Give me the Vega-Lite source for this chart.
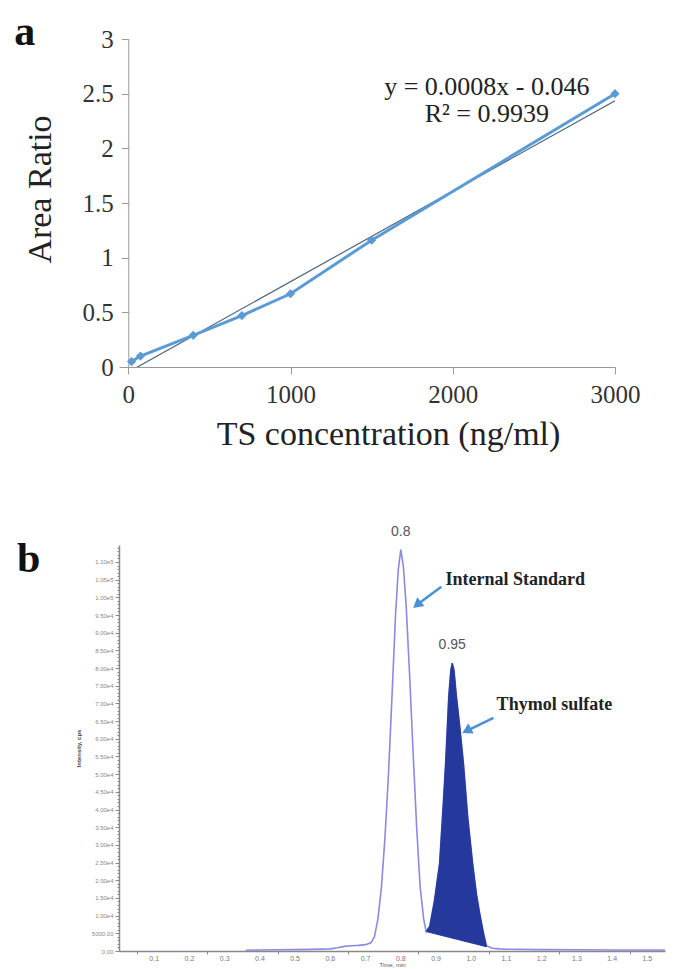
{
  "$schema": "https://vega.github.io/schema/vega-lite/v6.json",
  "background": "white",
  "padding": {"left": 14, "top": 11, "right": 5, "bottom": 0},
  "spacing": 73,
  "config": {"view": {"stroke": null}, "axis": {"grid": false}, "axisX": {"labelFlush": false}},
  "datasets": {
    "cal": [
      {"conc": 20, "ratio": 0.05},
      {"conc": 75, "ratio": 0.1},
      {"conc": 400, "ratio": 0.29},
      {"conc": 700, "ratio": 0.47},
      {"conc": 1000, "ratio": 0.67},
      {"conc": 1500, "ratio": 1.16},
      {"conc": 3000, "ratio": 2.5}
    ],
    "fit": [
      {"conc": 20, "ratio": -0.03},
      {"conc": 3000, "ratio": 2.435}
    ],
    "eq": [
      {"conc": 2210, "ratio": 2.557, "text": "y = 0.0008x - 0.046"},
      {"conc": 2210, "ratio": 2.31, "text": "R² = 0.9939"}
    ],
    "trace": [
      {"t": 0.36, "i": 200}, {"t": 0.40, "i": 300}, {"t": 0.45, "i": 350}, {"t": 0.50, "i": 400},
      {"t": 0.55, "i": 450}, {"t": 0.60, "i": 600}, {"t": 0.62, "i": 900}, {"t": 0.64, "i": 1300},
      {"t": 0.66, "i": 1500}, {"t": 0.68, "i": 1600}, {"t": 0.70, "i": 1800}, {"t": 0.715, "i": 2300},
      {"t": 0.725, "i": 4000}, {"t": 0.735, "i": 9000}, {"t": 0.745, "i": 18000}, {"t": 0.755, "i": 32000},
      {"t": 0.765, "i": 50000}, {"t": 0.775, "i": 72000}, {"t": 0.785, "i": 95000}, {"t": 0.793, "i": 108000},
      {"t": 0.80, "i": 113500}, {"t": 0.807, "i": 109000}, {"t": 0.815, "i": 98000}, {"t": 0.825, "i": 78000},
      {"t": 0.835, "i": 56000}, {"t": 0.845, "i": 35000}, {"t": 0.855, "i": 18000}, {"t": 0.865, "i": 9000},
      {"t": 0.872, "i": 5500}, {"t": 0.882, "i": 7000}, {"t": 0.895, "i": 14000}, {"t": 0.91, "i": 24800},
      {"t": 0.92, "i": 41000}, {"t": 0.927, "i": 53000}, {"t": 0.936, "i": 72000}, {"t": 0.942, "i": 79500},
      {"t": 0.946, "i": 81400}, {"t": 0.951, "i": 79500}, {"t": 0.958, "i": 72000}, {"t": 0.968, "i": 63000},
      {"t": 0.978, "i": 53000}, {"t": 0.99, "i": 38000}, {"t": 1.004, "i": 24800}, {"t": 1.015, "i": 16000},
      {"t": 1.024, "i": 10700}, {"t": 1.035, "i": 5000}, {"t": 1.043, "i": 1500}, {"t": 1.06, "i": 800},
      {"t": 1.08, "i": 600}, {"t": 1.10, "i": 500}, {"t": 1.20, "i": 400}, {"t": 1.30, "i": 350},
      {"t": 1.40, "i": 300}, {"t": 1.50, "i": 300}, {"t": 1.55, "i": 300}
    ],
    "ts": [
      {"t": 0.872, "i": 5500, "b": 5500}, {"t": 0.882, "i": 7000, "b": 5250}, {"t": 0.895, "i": 14000, "b": 4920},
      {"t": 0.91, "i": 24800, "b": 4540}, {"t": 0.92, "i": 41000, "b": 4290}, {"t": 0.927, "i": 53000, "b": 4120},
      {"t": 0.936, "i": 72000, "b": 3890}, {"t": 0.942, "i": 79500, "b": 3740}, {"t": 0.946, "i": 81400, "b": 3640},
      {"t": 0.951, "i": 79500, "b": 3510}, {"t": 0.958, "i": 72000, "b": 3340}, {"t": 0.968, "i": 63000, "b": 3090},
      {"t": 0.978, "i": 53000, "b": 2830}, {"t": 0.99, "i": 38000, "b": 2530}, {"t": 1.004, "i": 24800, "b": 2180},
      {"t": 1.015, "i": 16000, "b": 1900}, {"t": 1.024, "i": 10700, "b": 1680}, {"t": 1.035, "i": 5000, "b": 1400},
      {"t": 1.043, "i": 1500, "b": 1200}
    ],
    "xticks": [
      {"t": 0.1, "label": "0.1"}, {"t": 0.2, "label": "0.2"}, {"t": 0.3, "label": "0.3"}, {"t": 0.4, "label": "0.4"},
      {"t": 0.5, "label": "0.5"}, {"t": 0.6, "label": "0.6"}, {"t": 0.7, "label": "0.7"}, {"t": 0.8, "label": "0.8"},
      {"t": 0.9, "label": "0.9"}, {"t": 1.0, "label": "1.0"}, {"t": 1.1, "label": "1.1"}, {"t": 1.2, "label": "1.2"},
      {"t": 1.3, "label": "1.3"}, {"t": 1.4, "label": "1.4"}, {"t": 1.5, "label": "1.5"}
    ],
    "peaks": [
      {"t": 0.8, "i": 113500, "label": "0.8"},
      {"t": 0.946, "i": 81400, "label": "0.95"}
    ],
    "notes": [
      {"name": "is", "t": 0.927, "i": 104900, "label": "Internal Standard"},
      {"name": "ts", "t": 1.072, "i": 69570, "label": "Thymol sulfate"}
    ],
    "arrows": [
      {"name": "is", "t": 0.915, "i": 103000, "t2": 0.845, "i2": 97800, "ht": 0.846, "hi": 97900},
      {"name": "ts", "t": 1.063, "i": 65900, "t2": 0.99, "i2": 62400, "ht": 0.987, "hi": 62300}
    ]
  },
  "vconcat": [
    {
      "width": 496,
      "height": 328,
      "title": {"text": "a", "anchor": "start", "frame": "bounds", "font": "Liberation Serif", "fontSize": 42, "fontWeight": "bold", "color": "#111", "dx": -8.7, "dy": 31},
      "layer": [
        {
          "data": {"name": "fit"},
          "mark": {"type": "line", "color": "#4a6584", "strokeWidth": 1.2, "clip": true},
          "encoding": {
            "x": {"field": "conc", "type": "quantitative", "scale": {"domain": [-57.4, 3000], "nice": false, "zero": false},
              "axis": {"title": "TS concentration (ng/ml)", "values": [0, 1000, 2000, 3000], "labelExpr": "'' + datum.value", "labelFont": "Liberation Serif", "labelFontSize": 25, "labelColor": "#333", "titleFont": "Liberation Serif", "titleFontSize": 34, "titleFontWeight": "normal", "titleColor": "#222", "titleX": 269, "domainColor": "#999", "tickColor": "#999", "tickSize": 7, "labelPadding": 8, "titlePadding": 10}},
            "y": {"field": "ratio", "type": "quantitative", "scale": {"domain": [0, 3], "nice": false},
              "axis": {"title": "Area Ratio", "offset": -9.3, "values": [0, 0.5, 1, 1.5, 2, 2.5, 3], "labelExpr": "'' + datum.value", "labelFont": "Liberation Serif", "labelFontSize": 25, "labelColor": "#333", "titleFont": "Liberation Serif", "titleFontSize": 34, "titleFontWeight": "normal", "titleColor": "#222", "titleY": 150, "domainColor": "#999", "tickColor": "#999", "tickSize": 7, "labelPadding": 8, "titlePadding": 25}}
          }
        },
        {
          "data": {"name": "cal"},
          "mark": {"type": "line", "color": "#5b9bd5", "strokeWidth": 3},
          "encoding": {
            "x": {"field": "conc", "type": "quantitative"},
            "y": {"field": "ratio", "type": "quantitative"}
          }
        },
        {
          "data": {"name": "cal"},
          "mark": {"type": "point", "shape": "diamond", "filled": true, "color": "#5b9bd5", "size": 85, "opacity": 1},
          "encoding": {
            "x": {"field": "conc", "type": "quantitative"},
            "y": {"field": "ratio", "type": "quantitative"}
          }
        },
        {
          "data": {"name": "eq"},
          "mark": {"type": "text", "font": "Liberation Serif", "fontSize": 26, "color": "#222", "align": "center", "baseline": "middle"},
          "encoding": {
            "x": {"field": "conc", "type": "quantitative"},
            "y": {"field": "ratio", "type": "quantitative"},
            "text": {"field": "text"}
          }
        }
      ]
    },
    {
      "width": 546,
      "height": 406,
      "title": {"text": "b", "anchor": "start", "frame": "bounds", "font": "Liberation Serif", "fontSize": 42, "fontWeight": "bold", "color": "#111", "dx": -58.4, "dy": 60},
      "layer": [
        {
          "data": {"name": "trace"},
          "mark": {"type": "line", "color": "#8a8ae2", "strokeWidth": 1.6},
          "encoding": {
            "x": {"field": "t", "type": "quantitative", "scale": {"domain": [0, 1.55], "nice": false, "zero": false},
              "axis": {"title": "Time, min", "values": [0.05, 0.1, 0.15, 0.2, 0.25, 0.3, 0.35, 0.4, 0.45, 0.5, 0.55, 0.6, 0.65, 0.7, 0.75, 0.8, 0.85, 0.9, 0.95, 1.0, 1.05, 1.1, 1.15, 1.2, 1.25, 1.3, 1.35, 1.4, 1.45, 1.5, 1.55],
                "labels": false,
                "titleFont": "Liberation Sans", "titleFontSize": 6, "titleFontWeight": "normal", "titleColor": "#555", "titlePadding": 7,
                "domainColor": "#888", "domainWidth": 1.5, "tickColor": "#888", "tickSize": 3}},
            "y": {"field": "i", "type": "quantitative", "scale": {"domain": [0, 114800], "nice": false},
              "axis": {"title": "Intensity, cps", "tickCount": 115,
                "labelExpr": "datum.value % 5000 == 0 ? (datum.value == 0 ? '0.00' : (datum.value < 10000 ? format(datum.value, '.2f') : replace(format(datum.value, '.2e'), 'e+', 'e'))) : ''",
                "labelFont": "Liberation Sans", "labelFontSize": 6, "labelColor": "#888", "labelOverlap": false,
                "titleFont": "Liberation Sans", "titleFontSize": 6, "titleFontWeight": "bold", "titleColor": "#444", "titlePadding": 10,
                "domainColor": "#888", "domainWidth": 1.5, "tickColor": "#888",
                "tickSize": {"condition": {"test": "datum.value % 5000 == 0", "value": 4}, "value": 2},
                "labelPadding": 2}}
          }
        },
        {
          "data": {"name": "xticks"},
          "mark": {"type": "text", "font": "Liberation Sans", "fontSize": 7, "color": "#777", "align": "center", "baseline": "top", "dy": 4},
          "encoding": {
            "x": {"field": "t", "type": "quantitative"},
            "y": {"datum": 0},
            "text": {"field": "label"}
          }
        },
        {
          "data": {"name": "ts"},
          "mark": {"type": "area", "color": "#24399b", "stroke": "#24399b", "strokeWidth": 1},
          "encoding": {
            "x": {"field": "t", "type": "quantitative"},
            "y": {"field": "i", "type": "quantitative"},
            "y2": {"field": "b"}
          }
        },
        {
          "data": {"name": "peaks"},
          "mark": {"type": "text", "font": "Liberation Sans", "fontSize": 14, "color": "#555", "align": "center", "baseline": "bottom", "dy": -11},
          "encoding": {
            "x": {"field": "t", "type": "quantitative"},
            "y": {"field": "i", "type": "quantitative"},
            "text": {"field": "label"}
          }
        },
        {
          "data": {"name": "notes"},
          "mark": {"type": "text", "font": "Liberation Serif", "fontSize": 18, "fontWeight": "bold", "color": "#222", "align": "left", "baseline": "middle"},
          "encoding": {
            "x": {"field": "t", "type": "quantitative"},
            "y": {"field": "i", "type": "quantitative"},
            "text": {"field": "label"}
          }
        },
        {
          "data": {"name": "arrows"},
          "mark": {"type": "rule", "color": "#4a8fd9", "strokeWidth": 2.5},
          "encoding": {
            "x": {"field": "t", "type": "quantitative"},
            "y": {"field": "i", "type": "quantitative"},
            "x2": {"field": "t2"},
            "y2": {"field": "i2"}
          }
        },
        {
          "data": {"name": "arrows"},
          "transform": [{"filter": "datum.name == 'is'"}],
          "mark": {"type": "point", "shape": "triangle-up", "filled": true, "color": "#4a8fd9", "opacity": 1, "size": 130, "angle": 231},
          "encoding": {
            "x": {"field": "ht", "type": "quantitative"},
            "y": {"field": "hi", "type": "quantitative"}
          }
        },
        {
          "data": {"name": "arrows"},
          "transform": [{"filter": "datum.name == 'ts'"}],
          "mark": {"type": "point", "shape": "triangle-up", "filled": true, "color": "#4a8fd9", "opacity": 1, "size": 130, "angle": 242},
          "encoding": {
            "x": {"field": "ht", "type": "quantitative"},
            "y": {"field": "hi", "type": "quantitative"}
          }
        }
      ]
    }
  ]
}
